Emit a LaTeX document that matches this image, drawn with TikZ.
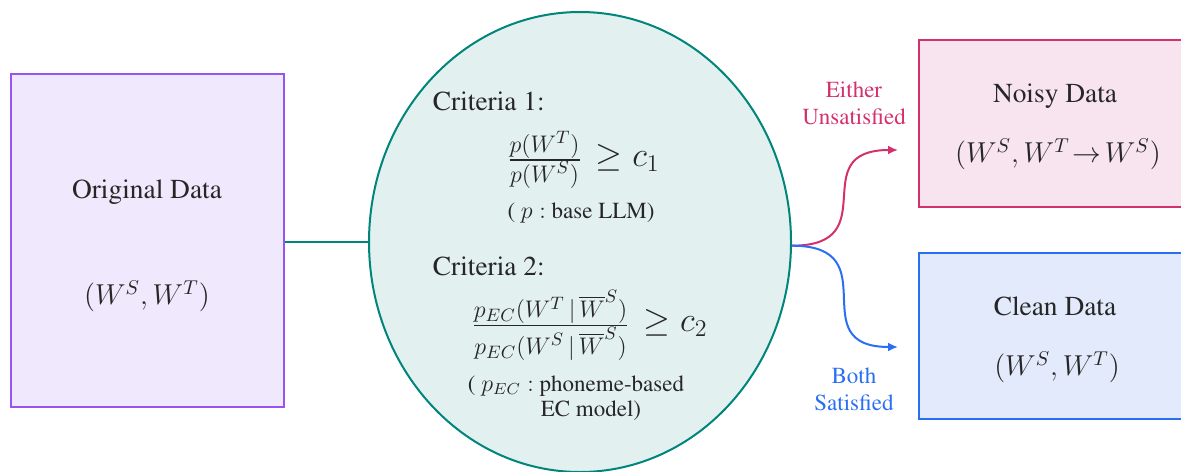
\documentclass[tikz,border=0pt]{standalone}
\usepackage{amsmath}
\usepackage{amssymb}
\usepackage[T1]{fontenc}
\renewcommand{\rmdefault}{ptm}
\usetikzlibrary{positioning, arrows.meta, shapes.geometric}
\definecolor{ink}{HTML}{262626}
\definecolor{violetline}{HTML}{9655F0}
\definecolor{violetfill}{HTML}{F0E8FC}
\definecolor{tealline}{HTML}{00857A}
\definecolor{tealfill}{HTML}{E3F0F0}
\definecolor{pinkline}{HTML}{D4306C}
\definecolor{pinkfill}{HTML}{F8E4EE}
\definecolor{blueline}{HTML}{2A6EF2}
\definecolor{bluefill}{HTML}{E2EAFB}
\newcommand{\ratio}[2]{{\fontsize{13}{15}\selectfont$\frac{\textstyle #1}{\textstyle #2}$}\hspace{7pt}}

\begin{document}
\begin{tikzpicture}[x=0.5pt, y=-0.5pt,
    databox/.style={draw, line width=1pt, minimum width=136.5pt, inner sep=0pt},
    txt/.style={text=ink, font=\rmfamily\fontsize{13.7}{16}\selectfont, inner sep=0pt},
    mth/.style={text=ink, font=\fontsize{14.2}{17}\selectfont, inner sep=0pt},
    rule/.style={text=ink, font=\fontsize{18}{20}\selectfont, inner sep=0pt, anchor=base},
    note/.style={text=ink, font=\rmfamily\fontsize{11.5}{12.5}\selectfont, inner sep=0pt, align=center},
    lbl/.style={font=\rmfamily\fontsize{11.5}{13.5}\selectfont, inner sep=0pt, align=center},
    flow/.style={line width=1pt, -{Latex[length=5pt, width=4.5pt]}}]
  \useasboundingbox (0,0) rectangle (1181,471);
  % Original data
  \node[databox, draw=violetline, fill=violetfill, minimum height=166.8pt] (orig) at (147,240.5) {};
  \node[txt, anchor=base] (origtitle) at (147,198) {Original Data};
  \node[mth] (origpair) at (147,296) {$(W^S, W^T)$};
  % Filtering criteria
  \node[ellipse, draw=tealline, fill=tealfill, line width=1pt, inner sep=0pt,
    minimum width=211pt, minimum height=230pt] (crit) at (580,242) {};
  \draw[tealline, line width=1pt] (orig.east |- crit.west) -- (crit.west);
  \node[txt, anchor=base west] (crita) at (432.5,110.5) {Criteria 1:};
  \node[rule] (fraca) at (583.5,166) {\ratio{p(W^T)}{p(W^S)}$\geq c_1$};
  \node[note, anchor=base] (notea) at (581,218) {( $p:$ base LLM)};
  \node[txt, anchor=base west] (critb) at (432.5,275) {Criteria 2:};
  \node[rule] (fracb) at (589.5,331.5)
    {\ratio{p_{EC}(W^T \,|\, \overline{W}^S)}{p_{EC}(W^S \,|\, \overline{W}^S)}$\geq c_2$};
  \node[note] (noteb) at (576,398) {( $p_{EC}:$ phoneme-based\\ \hspace*{15pt}EC model)};
  % Outputs
  \node[databox, draw=pinkline, fill=pinkfill, minimum height=83.3pt] (noisy) at (1055,123.3) {};
  \node[txt, anchor=base] (noisytitle) at (1055,102) {Noisy Data};
  \node[mth] (noisypair) at (1058,154) {$(W^S, W^T\!\rightarrow\! W^S)$};
  \node[databox, draw=blueline, fill=bluefill, minimum height=83.3pt] (clean) at (1055,336) {};
  \node[txt, anchor=base] (cleantitle) at (1055,315) {Clean Data};
  \node[mth] (cleanpair) at (1057,367) {$(W^S, W^T)$};
  % Decision arrows
  \coordinate (noisyin) at (898,150);
  \coordinate (cleanin) at (898,347);
  \draw[flow, pinkline] (crit.-1.5) to[out=0, in=180, looseness=1.7] (noisyin);
  \draw[flow, blueline] (crit.-1.8) to[out=0, in=180, looseness=1.7] (cleanin);
  \node[lbl, text=pinkline] (either) at (854,103) {Either\\Unsatisfied};
  \node[lbl, text=blueline] (both) at (854,389) {Both\\Satisfied};
\end{tikzpicture}
\end{document}
